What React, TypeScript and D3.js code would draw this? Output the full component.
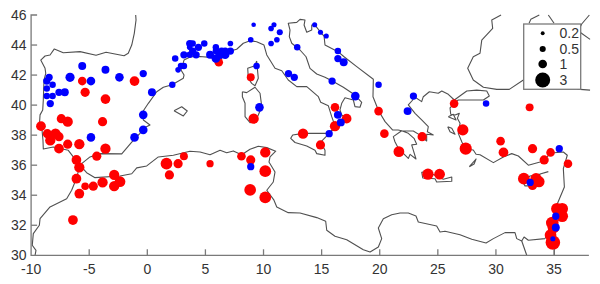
import React, { useMemo } from "react";
import * as d3 from "d3";

type P = [number, number];
type S = [number, number, number];

const xTicks = [-10, -5, 0, 5, 10, 15, 20, 25, 30, 35];
const yTicks = [30, 32, 34, 36, 38, 40, 42, 44, 46];
const legendValues = [0.2, 0.5, 1, 3];

const redSites: S[] = [
  [-1.1,41.6,.9],[-5.6,41.6,.7],[-5.35,40.85,.8],[-3.6,40.4,.9],[-7.4,39.1,.8],[-6.85,38.9,1],[-3.85,38.9,.8],[-9.15,38.6,.9],
  [-8.6,38.1,.8],[-7.9,38.1,1],[-7.6,37.9,.8],[-8.35,37.65,1],[-6.85,37.4,.8],[-5.85,37.4,1],[-7.6,37.1,.9],[-3.6,37.1,1],
  [-4.35,36.6,.8],[-6.1,36.35,.9],[-5.85,35.85,1],[-6.1,35.1,.9],[-2.85,35.35,1],[-2.35,34.9,1.1],[-3.85,34.85,1],[-2.85,34.6,1],
  [-4.65,34.6,.8],[-5.35,34.6,.55],[-5.85,34.1,.9],[-6.4,32.35,.9],
  [1.65,36.1,1.3],[1.9,35.35,.8],[2.65,36.1,.8],[3.15,36.6,.6],[5.4,36.1,.5],[8.1,36.6,.7],[8.9,36.35,.8],[10.15,36.85,1],
  [10.15,35.6,1.3],[8.85,34.35,1.3],[10.15,33.85,1.3],
  [6.15,42.85,.7],[8.9,41.85,.6],[9.15,39.1,1],[16.15,39.85,.7],[17.15,39.1,.9],[16.15,38.6,1],[13.4,38.1,1],[14.9,37.35,.8],
  [19.9,39.6,.7],[20.4,38.1,.7],[21.65,36.9,1.1],[23.65,37.9,.8],[24.15,35.4,1.2],[25.15,35.4,1.1],[26.4,40.1,.7],[27.15,38.35,1.2],
  [27.4,37.1,1.4],[30.4,37.6,.7],[30.65,36.85,.9],[32.9,39.85,.6],[33.15,37.1,.8],[34.15,36.35,.8],[34.7,36.85,.7],[36.2,36.1,.7],
  [32.4,35.1,1.3],[33.15,34.65,.8],[33.45,35.1,1.2],[33.7,34.9,1.2],[35.25,33.1,1.3],[35.7,33.1,1.3],[35.7,32.6,1.3],
  [34.85,32.15,1.5],[34.95,31.85,1.3],[34.7,31.35,1.3],[34.9,30.85,2],
];

const blueSites: S[] = [
  [-5.6,42.6,.6],[-3.6,42.35,.6],[-.35,42.1,.5],[-2.4,41.85,.7],[-4.85,41.6,.7],[-6.65,41.85,.8],[-8.45,41.85,.5],[-8.65,41.6,.5],
  [-8.15,41.35,.4],[-8.65,41.1,.4],[-7.6,40.85,.5],[-7.1,40.85,.6],[-8.65,40.6,.4],[-8.15,40.6,.4],[-8.35,40.1,.5],[.4,40.85,.6],
  [-.35,39.35,.7],[-.35,38.35,.7],[-1.1,37.85,.7],[-4.85,37.85,.7],[2.15,41.35,.4],
  [2.4,43.1,.4],[2.65,42.35,.3],[2.9,42.6,.4],[3.15,42.6,.4],[3.15,43.35,.5],[3.65,44.1,.5],[3.9,44.1,.4],[3.65,43.85,.3],
  [4.4,43.85,.5],[4.9,44.1,.4],[3.9,43.6,.5],[3.65,43.35,.4],[4.2,43.35,.5],[5.9,43.85,.4],[5.9,43.6,.4],[5.4,43.35,.6],
  [5.9,43.1,.7],[6.4,43.6,.5],[6.7,43.6,.5],[6.25,43.35,.7],[6.7,43.35,.7],[7.15,43.6,.5],[7.15,44.1,.3],
  [8.9,44.35,.3],[9.15,45.35,.2],[10.9,45.35,.25],[10.65,45.1,.3],[11.4,44.85,.35],[11.15,44.35,.3],[10.65,44.1,.3],
  [14.4,45.35,.25],[14.9,44.85,.25],[15.4,44.6,.25],[12.9,43.85,.4],[16.4,43.6,.4],[16.4,43.1,.5],[16.9,42.85,.6],[12.15,42.1,.5],
  [12.65,41.85,.5],[15.9,41.6,.5],[17.9,40.6,.7],[19.9,41.35,.4],[9.4,42.6,.4],[9.65,39.85,.7],[16.4,39.35,.6],[16.65,38.85,.6],
  [15.65,38.1,.5],[8.9,35.9,.5],[22.9,40.6,.5],[22.4,39.6,.6],[29.15,40.1,.4],[35.45,37.1,.5],[32.95,34.85,.5],
  [35.15,32.6,.5],[35.15,31.85,.6],[34.9,31.1,.25],
];

const mainland: P[] = [
  [-1,46],[-.97,45.67],[-1.12,44.78],[-1.34,44],[-1.64,43.45],[-2,43.29],[-2.78,43.4],[-3.55,43.52],[-4.41,43.32],[-5.79,43.56],[-7.23,43.49],[-8,43.74],[-8.37,43.34],[-8.8,43.27],[-9.17,43],[-8.8,42.45],[-8.74,42.12],[-8.89,41.67],[-8.95,40.34],[-9,39.68],[-9.23,39.35],[-9.29,38.61],[-9.06,38.34],[-8.98,37.68],[-8.95,37.08],[-8.09,37.21],[-6.8,36.99],[-6.37,36.55],[-5.79,35.99],
];
const spainFrance: P[] = [
  [-5.65,36.1],[-4.93,36.55],[-4.07,36.77],[-2.2,36.75],[-1.34,37.54],[-.63,38.12],[-.34,38.46],[.23,38.68],[-.34,39.01],[-.48,39.46],[.09,40.12],[.81,40.89],[1.38,41.19],[2.13,41.36],[3.1,41.79],[3.16,42],[2.9,42.34],[3.16,43],[3.73,43.22],[4.54,43.24],[5.4,43.18],[6.26,43],[6.95,43.56],[7.69,43.72],[8.26,44.12],[8.84,44.29],[9.41,44.22],[10.04,44],[10.28,43.34],[10.99,42.45],[11.57,42.29],[12.13,41.67],[12.86,41.23],[13.72,41.23],[14.72,40.56],[14.92,40.19],[15.58,39.95],[15.87,39.23],[16.15,38.61],[15.66,38.12],[16.15,38.48],[16.58,38.9],[17.16,39.12],[16.73,39.34],[16.58,39.68],[16.73,40.12],[17.01,40.49],[17.73,40.34],[17.87,39.9],[18.3,39.86],[18.45,40.19],[17.87,40.67],[16.87,41.19],[15.92,41.61],[15.29,41.85],[14.58,42.07],[14,42.45],[13.66,43.22],[13.14,43.67],[12.43,44.12],[12.22,44.56],[12.28,45],[12.13,45.45],[12.86,45.51],[13.14,45.71],[13.57,45.67],[13.49,45.33],[13.72,44.85],[14.15,45],[14.15,45.33],[14.43,45.33],[14.92,44.85],[15.21,44.6],[15.29,44],[16.41,43.56],[16.93,43.22],[18.02,42.56],[19.45,41.72],[19.42,40.56],[19.91,39.61],[20.46,38.9],[21.12,38.34],[21.58,38.34],[21.89,38.29],
  [21.17,37.9],[21.31,37.56],[21.6,37.12],[22.18,36.67],[22.46,36.45],[22.61,36.72],[23.12,36.41],[22.75,37.35],[23.18,37.39],[22.95,37.79],[22.46,38.12],[21.89,38.29],
  [22.89,38.28],[23.47,38],[24.04,37.61],[24.04,38.06],[24.61,38.01],[24.1,38.23],[24.18,38.56],[23.61,39.01],[23.04,39.45],[22.46,40.01],[22.84,40.34],[22.89,40.61],[23.61,40.23],[23.75,40.56],[24.27,40.89],[25.04,40.79],[25.34,40.94],[25.9,40.72],[26.42,40.34],[27.49,40.94],[28.35,41],[29.21,40.94],[29.43,40.61],[28.92,40.34],[26.76,40.34],[26.42,40.12],[26.05,39.81],[26.11,39.39],[26.48,39.34],[26.85,39.45],[26.68,39.12],[26.91,38.79],[26.76,38.12],[27.06,37.56],[27.34,37.08],[28.05,37.01],[28.29,36.73],[28.63,36.7],[29.78,36.17],[30.64,36.55],[31.36,36.77],[31.93,36.61],[32.79,36],[33.8,36.21],[34.14,36.37],[34.74,36.81],[35.8,36.88],[36.14,36.66],[35.8,35.77],[35.89,34.55],[35.23,33.33],[34.91,32.22],[34.22,31.11],[32.79,31],[32.42,31.22],[32.22,30.95],[31.79,31.11],[31.64,31.51],[30.78,31.51],[29.78,31.11],[29.15,30.82],[27.92,31.07],[26.91,31.37],[25.62,31.6],[25.19,31.55],[24.9,31.95],[23.32,32.22],[23.12,32.62],[22.46,32.82],[21.75,32.82],[21.03,32.7],[20.31,32.44],[19.88,31.82],[20.17,31.11],[19.88,30.55],[19.17,30.22],[18.59,30.37],[17.16,31.04],[16.15,31.27],[15.44,31.67],[15.35,32.27],[14.58,32.51],[13.14,32.82],[12.13,32.84],[11.14,33.22],[10.9,33.67],[10.28,34.33],[10.84,34.88],[10.99,35.55],[10.47,36.21],[10.56,36.55],[11.05,36.93],[10.28,37.17],[9.55,37.26],[8.84,37.06],[8.12,36.7],[7.4,36.95],[6.83,36.83],[6.26,36.99],[5.4,36.7],[4.54,36.88],[3.67,36.93],[2.24,36.66],[.95,36.55],[-.05,35.95],[-.91,35.82],[-1.34,35.43],[-2.35,35.28],[-4.5,35.17],[-5.22,35.5],[-5.79,35.99],[-6.11,35.1],[-6.51,34.33],[-6.94,33.77],[-8.37,33.22],[-9.23,32.44],[-9.29,32],[-9.81,31.44],[-9.9,30.67],[-9.58,30.33],[-9.66,30],
];
const suez: P[] = [[32.22,30.95],[32.65,30]];
const aqaba: P[] = [[35.03,30.49],[35.03,30]];
const blackSea: P[] = [[30.44,46],[29.64,45.67],[29.72,45.11],[28.78,44.33],[28.63,43.45],[28.05,43.22],[27.57,42.45],[28.05,41.67],[28.92,41.19],[30.07,41.05],[31.15,41.05],[32.36,41.67],[33,42]];
const crimeaA: P[] = [[32.85,45.45],[33,45.71],[33.73,46]];
const crimeaB: P[] = [[34.51,46],[35,45.45]];
const eastA: P[] = [[37,44.8],[37.38,45.4],[38.04,46]];
const eastB: P[] = [[37,44.9],[37.3,44.82],[38.1,44.38]];
const eastC: P[] = [[37,41.05],[37.24,41.05],[38.1,41]];

const sicily: P[] = [[15.66,38.12],[13.42,38.12],[12.51,38.01],[12.34,37.79],[12.71,37.51],[13.72,37.28],[14.43,36.99],[14.58,36.77],[15.29,36.66],[15.29,36.99],[14.92,37.54],[15.66,38.12]];
const sardinia: P[] = [[8.18,40.89],[8.55,40.83],[9.27,41.19],[9.7,40.79],[9.85,39.89],[9.55,39.34],[9.27,38.9],[8.84,38.83],[8.41,39.23],[8.41,40.12],[8.18,40.56],[8.18,40.89]];
const corsica: P[] = [[9.41,42.94],[9.55,41.79],[9.27,41.29],[8.98,41.45],[8.69,41.79],[8.64,42.45],[9.27,42.62],[9.41,42.94]];
const mallorca: P[] = [[2.3,39.63],[2.96,39.89],[3.44,39.61],[3.1,39.28],[2.3,39.63]];
const crete: P[] = [[23.61,35.55],[23.7,35.15],[24.76,35.1],[24.9,34.88],[26.2,34.93],[26.2,35.21],[25.47,35.06],[24.33,35.48],[23.61,35.55]];
const cyprus: P[] = [[34.51,35.57],[33.8,35.41],[33.54,35.01],[33.19,34.62],[32.5,34.62],[32.33,34.88],[32.93,35.28],[33.8,35.41]];
const rhodes: P[] = [[27.71,35.9],[28.29,36.41],[28.12,36.08],[27.71,35.9]];
const lesbos: P[] = [[25.9,39.23],[26.33,39.39],[26.57,39.01],[26.2,39.12],[25.9,39.23]];
const chios: P[] = [[25.85,38.56],[26.2,38.46],[26.48,38.06],[26.05,38.23],[25.85,38.56]];

const coasts = [mainland, spainFrance, suez, aqaba, blackSea, crimeaA, crimeaB, eastA, eastB, eastC, sicily, sardinia, corsica, mallorca, crete, cyprus, rhodes, lesbos, chios];

const W = 600, H = 284;
const FONT = "'Liberation Sans', Arial, sans-serif";
const AXIS = "#7a7a7a", INK = "#333333", COAST = "#505050";

export default function App() {
  const x = useMemo(() => d3.scaleLinear().domain([-10, 38]).range([31.1, 588.9]), []);
  const y = useMemo(() => d3.scaleLinear().domain([30, 46]).range([255.3, 15]), []);
  const r = useMemo(() => d3.scaleSqrt().domain([0, 3]).range([0, 7.5]), []);
  const siteR = useMemo(() => d3.scaleSqrt().domain([0, 3]).range([0, 8.9]), []);
  const line = d3.line<P>().x((d) => x(d[0])).y((d) => y(d[1])).curve(d3.curveLinear);
  const bx = 523.7, by = 24, bw = 57, bh = 65.3;
  const legendY = [33.3, 49, 64, 80];
  return (
    <svg width={W} height={H} style={{ position: "absolute", left: 0, top: 0, background: "#fff" }} fontFamily={FONT}>
      <g fill="none" stroke={COAST} strokeWidth={1.1} strokeLinejoin="round">
        {coasts.map((c, i) => <path key={i} d={line(c) ?? ""} />)}
      </g>
      <g fill="#ff0000">
        {redSites.map((d, i) => <circle key={i} cx={x(d[0])} cy={y(d[1])} r={siteR(d[2])} />)}
      </g>
      <g fill="#0000ff">
        {blueSites.map((d, i) => <circle key={i} cx={x(d[0])} cy={y(d[1])} r={siteR(d[2])} />)}
      </g>
      <g stroke={AXIS} strokeWidth={1.3} fill="none">
        <path d={`M${x(-10) + 6},${y(46)}H${x(-10)}V${y(30)}H${x(38)}`} />
        {yTicks.slice(1, -1).map((t) => <line key={t} x1={x(-10)} x2={x(-10) + 6} y1={y(t)} y2={y(t)} />)}
        {xTicks.slice(1).map((t) => <line key={t} x1={x(t)} x2={x(t)} y1={y(30)} y2={y(30) - 6} />)}
      </g>
      <g fill={INK} fontSize={14}>
        {yTicks.map((t) => <text key={t} x={26.5} y={y(t)} dy="0.35em" textAnchor="end">{t}</text>)}
        {xTicks.map((t) => <text key={t} x={x(t)} y={273.5} textAnchor="middle">{t}</text>)}
      </g>
      <rect x={bx} y={by} width={bw} height={bh} fill="#fff" stroke={AXIS} strokeWidth={1.3} />
      {legendValues.map((v, i) => (
        <g key={v}>
          <circle cx={542.7} cy={legendY[i]} r={r(v)} fill="#000" />
          <text x={559.5} y={legendY[i]} dy="0.36em" fontSize={14} fill={INK}>{v}</text>
        </g>
      ))}
    </svg>
  );
}
